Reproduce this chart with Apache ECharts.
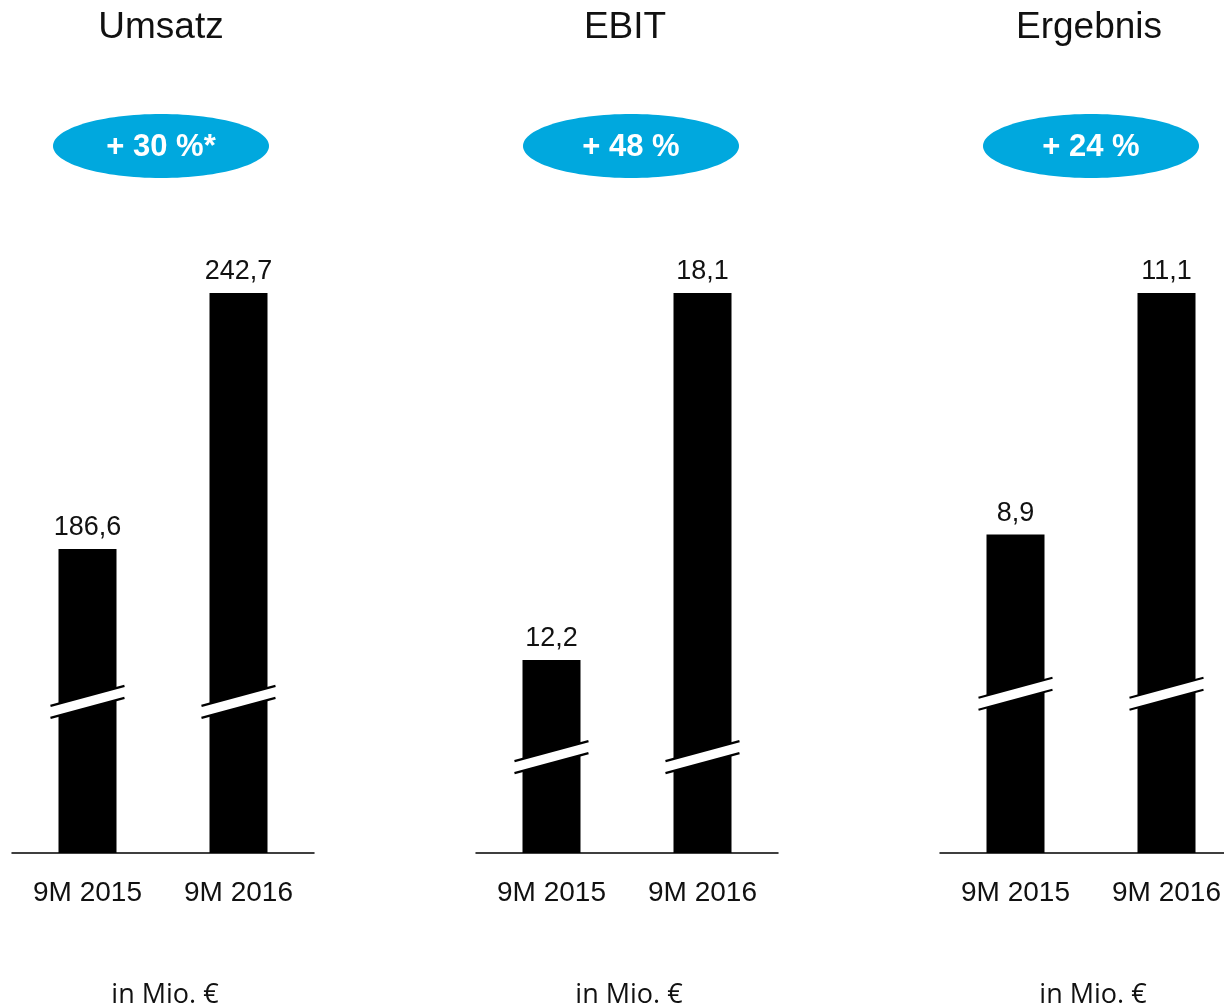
<!DOCTYPE html>
<html>
<head>
<meta charset="utf-8">
<script src="https://cdn.jsdelivr.net/npm/echarts@6/dist/echarts.min.js"></script>
<style>
  html, body { margin: 0; padding: 0; background: #fff; }
  #chart { width: 1224px; height: 1008px; }
</style>
</head>
<body>
<div id="chart"></div>
<script>
const panels = ['Umsatz', 'EBIT', 'Ergebnis'];
const changes = ['+ 30 %*', '+ 48 %', '+ 24 %'];
const periods = ['9M 2015', '9M 2016'];
const umsatz = [186.6, 242.7];
const ebit = [12.2, 18.1];
const ergebnis = [8.9, 11.1];
// broken axes: each panel starts above zero, break mark drawn at this value
const axisMin = [120, 9.1, 6];
const breakAt = [153.1, 10.64, 7.45];
const unit = 'in Mio. €';

const values = [umsatz, ebit, ergebnis];
const gridLeft = [12, 476, 940];
const gridWidth = 302;
const badgeX = [161, 631, 1091];

const fmt = v => v.toFixed(1).replace('.', ',');

function renderBreak(params, api) {
  const p = api.coord([api.value(0), api.value(1)]);
  const cx = p[0], cy = p[1];
  const hl = 37;
  const ul = [cx - hl, cy + 4], ur = [cx + hl, cy - 16];
  const ll = [cx - hl, cy + 16], lr = [cx + hl, cy - 4];
  return {
    type: 'group',
    children: [
      { type: 'polygon', shape: { points: [ul, ur, lr, ll] }, style: { fill: '#fff' } },
      { type: 'line', shape: { x1: ul[0], y1: ul[1], x2: ur[0], y2: ur[1] }, style: { stroke: '#000', lineWidth: 2.2 } },
      { type: 'line', shape: { x1: ll[0], y1: ll[1], x2: lr[0], y2: lr[1] }, style: { stroke: '#000', lineWidth: 2.2 } }
    ]
  };
}

const grid = [], xAxis = [], yAxis = [], series = [], title = [], graphic = [];

panels.forEach((name, i) => {
  const center = gridLeft[i] + gridWidth / 2;
  grid.push({
    left: gridLeft[i],
    right: 1224 - gridLeft[i] - gridWidth,
    top: 293,
    bottom: 155,
    outerBoundsMode: 'none'
  });
  xAxis.push({
    type: 'category',
    gridIndex: i,
    data: periods,
    axisLine: { onZero: false, lineStyle: { color: '#000', width: 1.5 } },
    axisTick: { show: false },
    axisLabel: { color: '#111', fontSize: 28, fontFamily: 'Liberation Sans', margin: 26 }
  });
  yAxis.push({
    type: 'value',
    gridIndex: i,
    min: axisMin[i],
    max: Math.max(...values[i]),
    show: false
  });
  series.push({
    type: 'bar',
    xAxisIndex: i,
    yAxisIndex: i,
    data: values[i],
    barWidth: 58,
    itemStyle: { color: '#000' },
    label: {
      show: true,
      position: 'top',
      distance: 8,
      color: '#111',
      fontSize: 27,
      fontFamily: 'Liberation Sans',
      formatter: p => fmt(p.value)
    }
  });
  series.push({
    type: 'custom',
    xAxisIndex: i,
    yAxisIndex: i,
    z: 5,
    data: periods.map(p => [p, breakAt[i]]),
    renderItem: renderBreak,
    silent: true
  });
  title.push({
    text: name,
    left: center - 2,
    top: 9,
    padding: 0,
    textAlign: 'center',
    textStyle: { fontSize: 37, fontWeight: 'normal', color: '#111', fontFamily: 'Liberation Sans' }
  });
  title.push({
    text: unit,
    left: center + 2,
    top: 982,
    padding: 0,
    textAlign: 'center',
    textStyle: { fontSize: 27, fontWeight: 'normal', color: '#111', fontFamily: 'Open Sans' }
  });
  graphic.push({
    type: 'ellipse',
    shape: { cx: badgeX[i], cy: 146, rx: 108, ry: 32 },
    style: { fill: '#00a8de' }
  });
  graphic.push({
    type: 'text',
    x: badgeX[i],
    y: 147,
    style: {
      text: changes[i],
      fill: '#fff',
      font: 'bold 31px "Liberation Sans"',
      align: 'center',
      verticalAlign: 'middle'
    }
  });
});

const chart = echarts.init(document.getElementById('chart'));
chart.setOption({
  animation: false,
  backgroundColor: '#fff',
  title, grid, xAxis, yAxis, series, graphic
});
</script>
</body>
</html>
